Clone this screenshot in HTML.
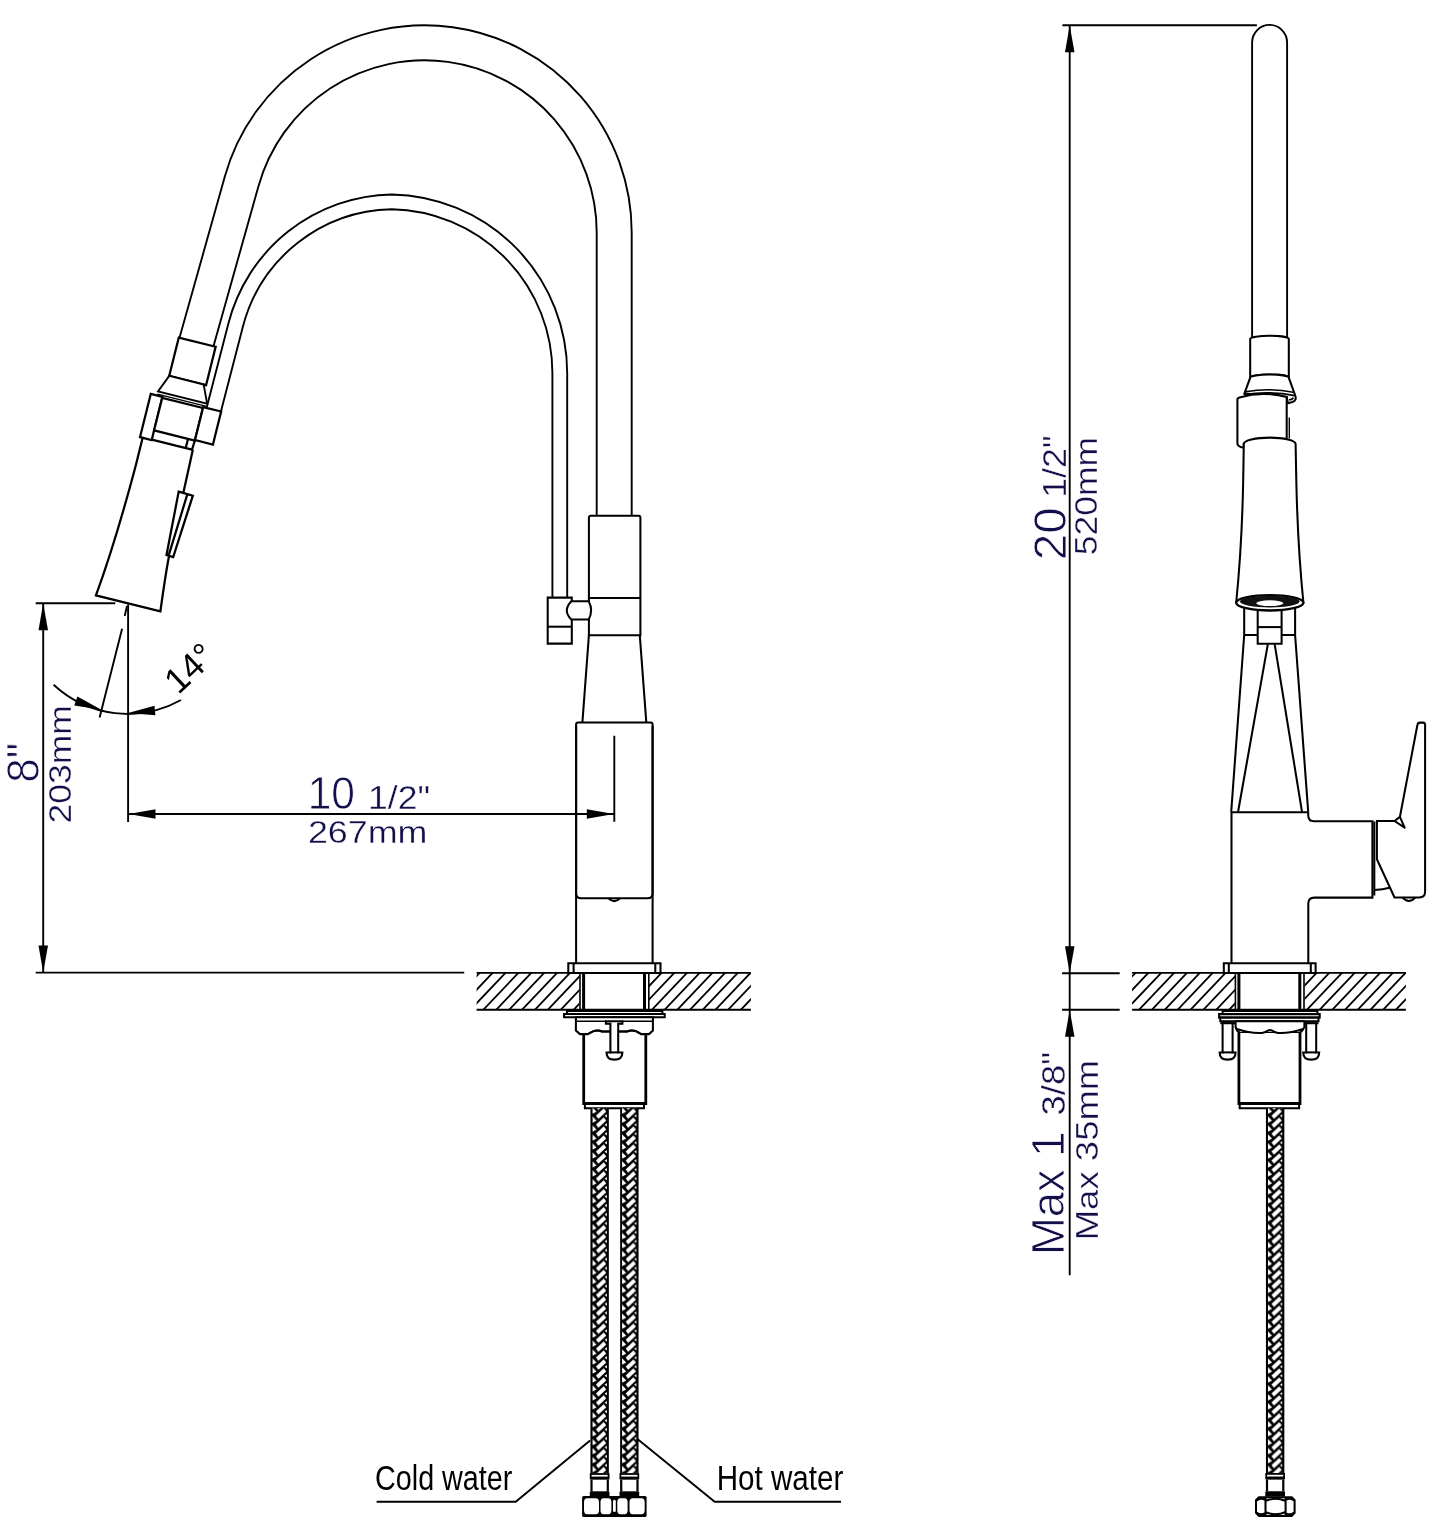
<!DOCTYPE html>
<html lang="en"><head><meta charset="utf-8"><title>Faucet dimensions</title>
<style>
html,body{margin:0;padding:0;background:#fff;}
body{width:1445px;height:1530px;overflow:hidden;}
svg{display:block;}
.l{fill:none;stroke:#000;stroke-width:2.05;stroke-linecap:butt;stroke-linejoin:miter;}
.w{fill:#fff;stroke:#000;stroke-width:2.05;stroke-linejoin:miter;}
.d{fill:none;stroke:#000;stroke-width:1.9;}
.t{stroke-width:1.9;}
.r .l,.r .w{stroke-width:2.25;}
.a{fill:#000;stroke:none;}
text{font-family:"Liberation Sans",sans-serif;}
svg{will-change:transform;}
.n{fill:#120f4a;stroke:#fff;stroke-width:0.35px;}
.b{stroke-width:0.8px;}
.k{fill:#000;}
.kw{fill:#000;}
</style></head><body>
<svg width="1445" height="1530" viewBox="0 0 1445 1530">
<defs>

<pattern id="braid" width="16.5" height="8.96" patternUnits="userSpaceOnUse"><rect width="16.5" height="8.96" fill="#000"/><g fill="#fff"><polygon points="4.60,-1.46 7.00,1.74 14.80,-5.36 12.40,-8.72"/><polygon points="0.90,-9.96 0.90,-3.16 5.10,-5.36"/><polygon points="15.60,-11.86 15.60,-8.46 13.10,-10.16"/><polygon points="4.60,7.50 7.00,10.70 14.80,3.60 12.40,0.24"/><polygon points="0.90,-1.00 0.90,5.80 5.10,3.60"/><polygon points="15.60,-2.90 15.60,0.50 13.10,-1.20"/><polygon points="4.60,16.46 7.00,19.66 14.80,12.56 12.40,9.20"/><polygon points="0.90,7.96 0.90,14.76 5.10,12.56"/><polygon points="15.60,6.06 15.60,9.46 13.10,7.76"/></g></pattern>
</defs>
<rect width="1445" height="1530" fill="#fff"/>

<g id="labels"><text class="n b" font-size="46.50" transform="translate(39.2 782.7) rotate(-90)" textLength="40.0" lengthAdjust="spacingAndGlyphs">8&quot;</text>
<text class="n" font-size="32.20" transform="translate(70.9 823.5) rotate(-90)" textLength="118.4" lengthAdjust="spacingAndGlyphs">203mm</text>
<text class="n b" font-size="46.50" x="307.7" y="809.3" textLength="47.3" lengthAdjust="spacingAndGlyphs">10</text>
<text class="n" font-size="33.00" x="368.0" y="809.3" textLength="62.0" lengthAdjust="spacingAndGlyphs">1/2&quot;</text>
<text class="n" font-size="32.20" x="307.9" y="842.8" textLength="119.6" lengthAdjust="spacingAndGlyphs">267mm</text>
<text class="n b" font-size="46.50" transform="translate(1065.5 560.2) rotate(-90)" textLength="53.0" lengthAdjust="spacingAndGlyphs">20</text>
<text class="n" font-size="33.00" transform="translate(1065.5 497.8) rotate(-90)" textLength="62.4" lengthAdjust="spacingAndGlyphs">1/2&quot;</text>
<text class="n" font-size="32.20" transform="translate(1097.3 555.3) rotate(-90)" textLength="118.4" lengthAdjust="spacingAndGlyphs">520mm</text>
<text class="n b" font-size="46.50" transform="translate(1064.2 1255.1) rotate(-90)" textLength="123.6" lengthAdjust="spacingAndGlyphs">Max 1</text>
<text class="n" font-size="33.00" transform="translate(1064.6 1115.4) rotate(-90)" textLength="63.5" lengthAdjust="spacingAndGlyphs">3/8&quot;</text>
<text class="n" font-size="32.20" transform="translate(1097.6 1240.3) rotate(-90)" textLength="180.6" lengthAdjust="spacingAndGlyphs">Max 35mm</text>
<text class="kw" font-size="35.50" x="375.0" y="1490.2" textLength="137.4" lengthAdjust="spacingAndGlyphs">Cold water</text>
<text class="kw" font-size="35.50" x="716.7" y="1490.2" textLength="126.6" lengthAdjust="spacingAndGlyphs">Hot water</text>
<text class="k" font-size="35.50" transform="translate(178.2 695.3) rotate(-43)">14°</text></g>
<g id="left-view">
<path class="l t" d="M179.51,337.76 L224.83,176.50 A207.3,207.3 0 0 1 631.70,232.6 L631.70,515.7"/>
<path class="l t" d="M213.48,346.23 L258.53,185.98 A172.3,172.3 0 0 1 596.70,232.6 L596.70,515.7"/>
<path class="l t" d="M206.57,407.89 L228.47,323.18 A171.8,171.8 0 0 1 391.65,194.43 A178.7,178.7 0 0 1 567.20,373.2 L567.20,597.5"/>
<path class="l t" d="M220.93,411.47 L242.80,326.89 A157.0,157.0 0 0 1 391.65,209.23 A163.89999999999998,163.89999999999998 0 0 1 552.40,373.2 L552.40,597.5"/>
<g class="r" transform="translate(422.7 233.5) rotate(14)">
<path class="w" d="M-211.5,160 L-173.5,160 L-173.5,199.5 L-211.5,199.5 Z"/>
<path class="w" d="M-211.5,199.5 L-176,199.5 L-168,217.3 L-218.6,217.3 Z" style="stroke-width:1.9"/>
<path class="l" d="M-218.6,220 L-168,220" style="stroke-width:1.4"/>
<path class="w" d="M-225,221.5 L-213,221.5 L-213,266 L-225,266 Z"/>
<path class="w" d="M-213,222.5 L-171,222.5 L-171,256 L-213,256 Z"/>
<path class="l" d="M-213,265.5 L-175.8,265.5"/>
<path class="w" d="M-171,221.5 L-152.5,221.5 L-152.5,255.5 L-171,255.5 Z"/>
<path class="l" d="M-178,256 L-178,265.5 M-171,256 L-171.5,265.5 L-175.8,265.5"/>
<path class="l" d="M-222.3,266 L-222.3,295 Q-223.5,375 -229.5,430.2 L-163.1,430.2 Q-167.2,392 -168.1,374.5"/>
<path class="l" d="M-170.7,265.5 L-169.5,309.5"/>
<path class="l" d="M-174.3,309.5 L-159.6,310 L-163.8,374.4 L-170.8,374 Z M-165.3,310 L-168.6,374"/>
</g>
<path class="w" d="M588.9,517.7 Q588.9,515.7 590.9,515.7 L638.4,515.7 Q640.4,515.7 640.4,517.7 L640.4,635.3 L588.9,635.3 Z"/>
<path class="l" d="M588.9,597.9 L640.4,597.9"/>
<path class="l" d="M588.9,635.3 L582.4,722.4 M639.8,635.3 L646.3,722.4"/>
<path class="w" d="M547.7,597.6 L571.8,597.6 L571.8,643.6 L547.7,643.6 Z"/>
<path class="l" d="M547.7,626.7 L571.8,626.7"/>
<path class="w" d="M571.4,601.2 Q562.2,610.4 571.4,619.5 L588.7,619.5 Q593.6,610.4 588.7,601.2 Z"/>
<path class="l" d="M576.1,726 L576.1,963.6 M652.6,726 L652.6,963.6"/>
<path class="l" d="M576.1,893.2 L576.1,724.4 Q576.1,722.4 578.1,722.4 L650.6,722.4 Q652.6,722.4 652.6,724.4 L652.6,893.2 Q652.6,898.2 647.6,898.2 L581.1,898.2 Q576.1,898.2 576.1,893.2 Z"/>
<path class="l" d="M608.5,898.2 Q614.3,904 620,898.2"/>
<path class="w" d="M568.3,963.3 L660.5,963.3 L660.5,972.9 L568.3,972.9 Z"/>
<path class="l" d="M573.6,963.3 L573.6,972.9 M655.3,963.3 L655.3,972.9"/>
<clipPath id="hc1"><rect x="476.6" y="972.9" width="103.0" height="36.8"/></clipPath><path clip-path="url(#hc1)" fill="none" stroke="#000" stroke-width="1.8" d="M442.80,1011.70 L481.56,970.90 M455.70,1011.70 L494.46,970.90 M468.60,1011.70 L507.36,970.90 M481.50,1011.70 L520.26,970.90 M494.40,1011.70 L533.16,970.90 M507.30,1011.70 L546.06,970.90 M520.20,1011.70 L558.96,970.90 M533.10,1011.70 L571.86,970.90 M546.00,1011.70 L584.76,970.90 M558.90,1011.70 L597.66,970.90 M571.80,1011.70 L610.56,970.90"/>
<clipPath id="hc2"><rect x="649" y="972.9" width="101.9" height="36.8"/></clipPath><path clip-path="url(#hc2)" fill="none" stroke="#000" stroke-width="1.8" d="M612.00,1011.70 L650.76,970.90 M624.70,1011.70 L663.46,970.90 M637.40,1011.70 L676.16,970.90 M650.10,1011.70 L688.86,970.90 M662.80,1011.70 L701.56,970.90 M675.50,1011.70 L714.26,970.90 M688.20,1011.70 L726.96,970.90 M700.90,1011.70 L739.66,970.90 M713.60,1011.70 L752.36,970.90 M726.30,1011.70 L765.06,970.90 M739.00,1011.70 L777.76,970.90"/>
<path class="l" style="stroke-width:1.9" d="M476.6,972.9 L750.9,972.9 M476.6,1009.7 L750.9,1009.7"/>
<path class="l" style="stroke-width:1.6" d="M580,972.9 L580,1009.7 M648.8,972.9 L648.8,1009.7"/>
<path class="l" style="stroke-width:3" d="M583.6,972.9 L583.6,1009.7 M644.5,972.9 L644.5,1009.7"/>
<path class="w" d="M567,1010.9 L662.4,1010.9 L662.4,1013.9 L567,1013.9 Z"/>
<path class="w" d="M564.1,1013.9 L664.7,1013.9 L664.7,1017.2 L564.1,1017.2 Z"/>
<path class="w" d="M575.9,1017.2 L652.9,1017.2 L652.9,1030.5 L649,1034.1 L641,1034.1 Q634,1028.5 627,1031.5 L602,1031.5 Q596,1028.5 588,1034.1 L580,1034.1 L575.9,1030.5 Z"/>
<path class="l" style="stroke-width:1.6" d="M577,1021.2 L605.9,1021.2 M622.4,1021.2 L652,1021.2"/>
<path class="w" style="stroke-width:2.8" d="M583.7,1034.1 L583.7,1103.5 L645.8,1103.5 L645.8,1034.1"/>
<path class="l" d="M583.7,1034.1 L588,1034.1 Q596,1028.5 602,1031.5 L627,1031.5 Q634,1028.5 641,1034.1 L645.8,1034.1"/>
<path class="w" d="M584.9,1104 L644,1104 L644,1108.2 L584.9,1108.2 Z"/>
<path class="w" d="M605.9,1021.2 L622.4,1021.2 L622.4,1023.8 L618.2,1023.8 L618.2,1052.4 L622.4,1052.4 Q622.4,1059.6 614.4,1059.6 Q606.5,1059.6 606.5,1052.4 L610.4,1052.4 L610.4,1023.8 L605.9,1023.8 Z"/>
<path class="l" d="M610.4,1052.4 L618.2,1052.4"/>
<g transform="translate(591.4 1108.2)"><rect x="0" y="0" width="16.5" height="364.9" fill="url(#braid)"/></g><path class="l" style="stroke-width:1.9" d="M591.4,1108.2 L591.4,1473.1 M607.9,1108.2 L607.9,1473.1"/><rect x="589.8" y="1473.1" width="19.7" height="6.3" fill="#000"/><rect x="591.6" y="1474.8999999999999" width="16.1" height="1.7" fill="#fff"/><rect x="590.4" y="1479.3999999999999" width="18.5" height="12.4" fill="#000"/><rect x="592.6" y="1479.8999999999999" width="14.1" height="11.4" fill="#fff"/><rect x="589.8" y="1491.6999999999998" width="19.7" height="5" fill="#000"/>
<g transform="translate(621.1 1108.2)"><rect x="0" y="0" width="16.5" height="364.9" fill="url(#braid)"/></g><path class="l" style="stroke-width:1.9" d="M621.1,1108.2 L621.1,1473.1 M637.6,1108.2 L637.6,1473.1"/><rect x="619.5" y="1473.1" width="19.7" height="6.3" fill="#000"/><rect x="621.3000000000001" y="1474.8999999999999" width="16.1" height="1.7" fill="#fff"/><rect x="620.1" y="1479.3999999999999" width="18.5" height="12.4" fill="#000"/><rect x="622.3000000000001" y="1479.8999999999999" width="14.1" height="11.4" fill="#fff"/><rect x="619.5" y="1491.6999999999998" width="19.7" height="5" fill="#000"/>
<rect x="582.1" y="1496.1" width="64.5" height="20.9" rx="1.5" fill="#000"/>
<rect x="584" y="1498.3" width="15.0" height="15.9" rx="3.2" ry="4.2" fill="#fff"/>
<rect x="600.5" y="1498.3" width="10.9" height="15.9" rx="3" ry="3.9" fill="#fff"/>
<rect x="613" y="1499.8" width="2.8" height="12.2" rx="1.2" ry="1.6" fill="#fff"/>
<rect x="617.3" y="1498.3" width="10.3" height="15.9" rx="3" ry="3.9" fill="#fff"/>
<rect x="629.5" y="1498.3" width="15.2" height="15.9" rx="3.2" ry="4.2" fill="#fff"/>
<path class="d" d="M376.6,1501.7 L515.7,1501.7 L590.1,1440.4"/>
<path class="d" d="M841,1501.7 L714.7,1501.7 L636.8,1438.4"/>
<path class="d" d="M35.7,603.3 L115.2,603.3 M35.7,972.6 L464.2,972.6 M43.2,603.3 L43.2,972.6"/>
<path class="a" d="M43.2,603.3 L48.0,630.3 L38.5,630.3 Z"/>
<path class="a" d="M43.2,972.6 L38.5,945.6 L48.0,945.6 Z"/>
<path class="d" d="M128.1,604.5 L128.1,822 M128.1,814 L613.8,814 M614.3,735.7 L614.3,821.8"/>
<path class="a" d="M128.5,814.0 L155.5,809.2 L155.5,818.8 Z"/>
<path class="a" d="M613.8,814.0 L586.8,818.8 L586.8,809.2 Z"/>
<path class="d" d="M127,606 L124.7,616 M122.1,628.8 L99.6,717.4"/>
<path class="d" d="M53.6,684.8 A109,109 0 0 0 181,700"/>
<path class="a" d="M101.4,709.7 L74.3,705.4 L77.4,696.4 Z"/>
<path class="a" d="M128.1,713.0 L154.5,705.7 L155.4,715.2 Z"/>
</g>
<g id="right-view">
<path class="d" d="M1062.4,25.3 L1256.9,25.3 M1069.7,25.3 L1069.7,1275.3 M1062.1,973.2 L1119.7,973.2 M1062.1,1009.8 L1119.7,1009.8"/>
<path class="a" d="M1069.7,25.3 L1074.5,52.3 L1065.0,52.3 Z"/>
<path class="a" d="M1069.7,973.2 L1065.0,946.2 L1074.5,946.2 Z"/>
<path class="a" d="M1069.7,1009.8 L1074.5,1036.8 L1065.0,1036.8 Z"/>
<path class="l t" d="M1252.1,338 L1252.1,42.6 A17.5,17.7 0 0 1 1287.1,42.6 L1287.1,338"/>
<path class="w" d="M1250.2,339 A19.3,3.2 0 0 1 1288.8,339 L1288.8,377.7 A19.3,3.2 0 0 0 1250.2,377.7 Z"/>
<path class="w" d="M1250.2,377.7 A19.3,3.2 0 0 1 1288.8,377.7 L1295.2,395.5 Q1297,400.5 1292.5,402 L1288,403.2 L1286.7,397 L1244.4,393.6 Z"/>
<path class="l" d="M1245.4,391.8 Q1269.5,387.6 1293.2,392.2 M1244.2,394.6 Q1269.5,390.6 1294.8,395.6 M1289,399.8 Q1292.5,399.6 1293.3,397.6" style="stroke-width:1.6"/>
<path class="w" d="M1243.8,447.8 Q1237.4,446.6 1237.4,443.5 L1237.4,399.8 Q1237.4,397.8 1239.4,397.4 Q1263,390.6 1286.7,397 L1286.7,440 L1243.8,444 Z"/>
<path class="l" d="M1289.3,417.5 L1289.3,438.5" style="stroke-width:1.4"/>
<path class="w" d="M1243.8,444 A25.9,6.4 0 0 1 1295.6,444 L1296.3,480 Q1297.6,545 1303.4,602.5 L1236.2,602.5 Q1242,545 1243.2,480 Z"/>
<path class="l" d="M1244.2,608 L1244.2,635 L1231.2,811.8 M1295.1,608 L1295.1,635 L1308.2,811.8 M1244.2,635 L1257.7,635 M1281.6,635 L1295.1,635"/>
<path class="w" d="M1257.7,606 L1281.6,606 L1281.6,643.7 L1257.7,643.7 Z"/>
<path class="l" d="M1257.7,627.1 L1281.6,627.1"/>
<path class="l" d="M1267.8,644.4 L1238.1,811.8 M1274.7,644.4 L1302,811.8"/>
<ellipse cx="1269.8" cy="602.8" rx="33.6" ry="7.7" fill="#fff" stroke="#000" stroke-width="2.3"/>
<ellipse cx="1269.8" cy="601.6" rx="29.8" ry="5.9" fill="#111" stroke="none"/>
<ellipse cx="1269.8" cy="603.2" rx="13.5" ry="2.9" fill="#fff" stroke="none"/>
<path class="l" d="M1231.5,963.3 L1231.5,812.3 L1308.2,812.3 M1308.2,811.8 L1308.2,815.3 Q1308.2,821.3 1314.2,821.3 L1372.4,821.3 L1372.4,897.6 L1314.3,897.6 Q1308.3,897.6 1308.3,903.6 L1308.3,963.3"/>
<path class="l" d="M1376.9,859.3 L1376.9,821 L1394.5,821 L1399.9,816.9 L1417.4,725 Q1417.8,722.6 1420,722.6 L1423,722.6 Q1425.1,722.6 1425.1,725 L1425.1,891.5 Q1425.1,897.4 1419.2,897.4 L1394.5,897.4 Z"/>
<path class="l" d="M1394.5,821 L1404.6,827.7 L1399.9,816.9" style="stroke-linejoin:round"/>
<path class="l" d="M1374.3,821.6 L1374.3,895.6 M1374.4,889.9 Q1383,889.6 1389.5,887.7"/>
<path class="l" d="M1402.4,897.4 Q1409,904.5 1415.4,897.4"/>
<path class="w" d="M1223.8,963.3 L1315.6,963.3 L1315.6,972.9 L1223.8,972.9 Z"/>
<path class="l" d="M1228.8,963.3 L1228.8,972.9 M1310.8,963.3 L1310.8,972.9"/>
<clipPath id="hc3"><rect x="1132.1" y="972.9" width="102.9" height="36.8"/></clipPath><path clip-path="url(#hc3)" fill="none" stroke="#000" stroke-width="1.8" d="M1098.59,1011.70 L1137.35,970.90 M1111.46,1011.70 L1150.22,970.90 M1124.33,1011.70 L1163.09,970.90 M1137.20,1011.70 L1175.96,970.90 M1150.07,1011.70 L1188.83,970.90 M1162.94,1011.70 L1201.70,970.90 M1175.81,1011.70 L1214.57,970.90 M1188.68,1011.70 L1227.44,970.90 M1201.55,1011.70 L1240.31,970.90 M1214.42,1011.70 L1253.18,970.90 M1227.29,1011.70 L1266.05,970.90"/>
<clipPath id="hc4"><rect x="1304.6" y="972.9" width="101.3" height="36.8"/></clipPath><path clip-path="url(#hc4)" fill="none" stroke="#000" stroke-width="1.8" d="M1267.00,1011.70 L1305.76,970.90 M1279.70,1011.70 L1318.46,970.90 M1292.40,1011.70 L1331.16,970.90 M1305.10,1011.70 L1343.86,970.90 M1317.80,1011.70 L1356.56,970.90 M1330.50,1011.70 L1369.26,970.90 M1343.20,1011.70 L1381.96,970.90 M1355.90,1011.70 L1394.66,970.90 M1368.60,1011.70 L1407.36,970.90 M1381.30,1011.70 L1420.06,970.90 M1394.00,1011.70 L1432.76,970.90"/>
<path class="l" style="stroke-width:1.9" d="M1132.1,972.9 L1405.9,972.9 M1132.1,1009.7 L1405.9,1009.7"/>
<path class="l" style="stroke-width:1.6" d="M1235.4,972.9 L1235.4,1009.7 M1304,972.9 L1304,1009.7"/>
<path class="l" style="stroke-width:3" d="M1238.9,972.9 L1238.9,1009.7 M1299.8,972.9 L1299.8,1009.7"/>
<path class="w" d="M1222.6,1011 L1317.4,1011 L1317.4,1014.1 L1222.6,1014.1 Z"/>
<path class="w" d="M1219.1,1014.1 L1319.7,1014.1 L1319.7,1017.6 L1219.1,1017.6 Z"/>
<path class="w" d="M1220.3,1017.6 L1318.5,1017.6 L1318.5,1021.2 L1220.3,1021.2 Z"/>
<path class="l" d="M1220.3,1023.2 L1235.6,1023.2 M1304.4,1023.2 L1318.5,1023.2"/>
<path class="w" d="M1222.6,1023.2 L1232.6,1023.2 L1232.6,1052.4 L1235.6,1052.4 Q1235.6,1059.6 1227.6,1059.6 Q1219.6,1059.6 1219.6,1052.4 L1222.6,1052.4 Z"/>
<path class="l" d="M1222.6,1052.4 L1232.6,1052.4"/>
<path class="w" d="M1306.2,1023.2 L1316.2,1023.2 L1316.2,1052.4 L1319.2,1052.4 Q1319.2,1059.6 1311.2,1059.6 Q1303.2,1059.6 1303.2,1052.4 L1306.2,1052.4 Z"/>
<path class="l" d="M1306.2,1052.4 L1316.2,1052.4"/>
<path class="w" d="M1235.6,1021.2 L1304.4,1021.2 L1304.4,1027 Q1303,1031 1299.5,1033 L1240,1033 Q1236.5,1031 1235.6,1027 Z"/>
<path class="w" style="stroke-width:2.8" d="M1238.9,1033 L1238.9,1103.5 L1300,1103.5 L1300,1033"/>
<path class="l" d="M1237,1029 Q1250,1033.6 1262,1033 Q1266,1032.5 1268,1030.6 Q1270,1029.6 1272,1030.6 Q1274,1032.5 1278,1033 Q1290,1033.6 1303,1029"/>
<path class="w" d="M1239.7,1104 L1299.1,1104 L1299.1,1108.2 L1239.7,1108.2 Z"/>
<g transform="translate(1266.9 1108.2)"><rect x="0" y="0" width="16.5" height="364.8" fill="url(#braid)"/></g><path class="l" style="stroke-width:1.9" d="M1266.9,1108.2 L1266.9,1473 M1283.4,1108.2 L1283.4,1473"/><rect x="1265.3000000000002" y="1473" width="19.7" height="6.3" fill="#000"/><rect x="1267.1000000000001" y="1474.8" width="16.1" height="1.7" fill="#fff"/><rect x="1265.9" y="1479.3" width="18.5" height="12.4" fill="#000"/><rect x="1268.1000000000001" y="1479.8" width="14.1" height="11.4" fill="#fff"/><rect x="1265.3000000000002" y="1491.6" width="19.7" height="5" fill="#000"/>
<path class="w" d="M1258.9,1497.2 L1291.7,1497.2 L1294.6,1500.2 L1294.6,1512.9 L1291.7,1515.9 L1258.9,1515.9 L1256,1512.9 L1256,1500.2 Z"/>
<path class="l" d="M1265.5,1497.2 L1265.5,1515.9 M1285.6,1497.2 L1285.6,1515.9 M1265.5,1501 Q1275.5,1496.6 1285.6,1501 M1265.5,1512 Q1275.5,1516.6 1285.6,1512 M1256.5,1500.6 Q1260.5,1497 1265.5,1500 M1256.5,1512.4 Q1260.5,1516 1265.5,1513 M1294.1,1500.6 Q1290.5,1497 1285.6,1500 M1294.1,1512.4 Q1290.5,1516 1285.6,1513" />
</g>
</svg></body></html>
